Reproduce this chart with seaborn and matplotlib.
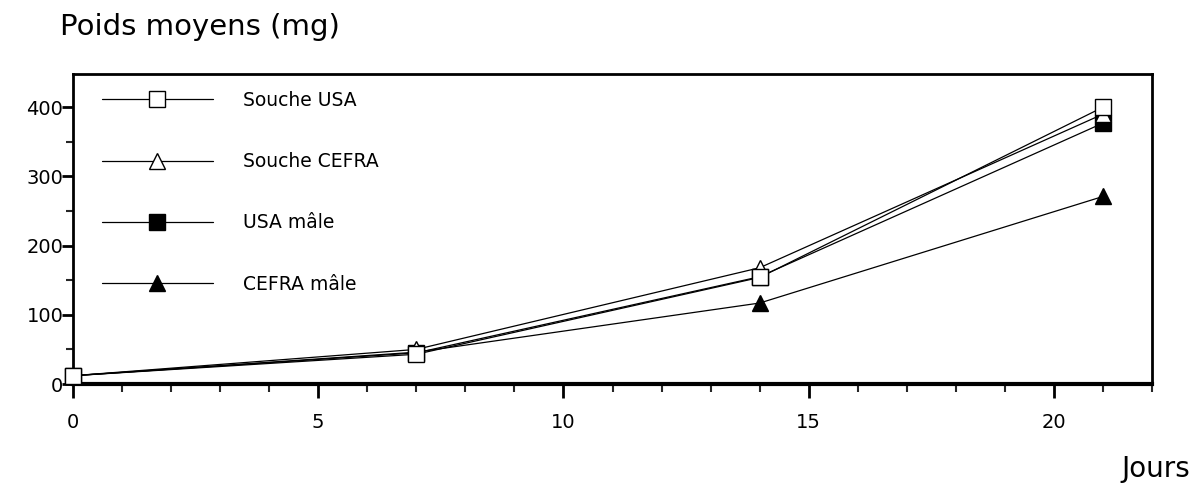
import matplotlib
matplotlib.use("Agg")
import matplotlib.pyplot as plt
from matplotlib.ticker import MultipleLocator
import seaborn as sns
import pandas as pd

sns.set_theme(style="white")
plt.rcParams["font.family"] = ["DejaVu Sans"]
plt.rcParams["text.color"] = "black"

jours = [0, 7, 14, 21]
souche_usa = [12, 43, 154, 400]
souche_cefra = [12, 50, 168, 390]
usa_male = [12, 45, 155, 377]
cefra_male = [12, 46, 117, 271]

series = [
    ("Souche USA", souche_usa, "s", "white", 5),
    ("Souche CEFRA", souche_cefra, "^", "white", 4),
    ("USA mâle", usa_male, "s", "black", 3),
    ("CEFRA mâle", cefra_male, "^", "black", 2),
]

fig = plt.figure(figsize=(11.96, 4.83), dpi=100)
ax = fig.add_axes([73 / 1196, 1 - 384 / 483, (1152 - 73) / 1196, (384 - 74) / 483])

for name, vals, mk, fc, z in series:
    df = pd.DataFrame({"Jours": jours, "Poids": vals})
    sns.lineplot(data=df, x="Jours", y="Poids", ax=ax, color="black", linewidth=0.9,
                 marker=mk, markersize=12, markerfacecolor=fc, markeredgecolor="black",
                 markeredgewidth=1.0, label=name, zorder=z, clip_on=False)

ax.set_xlim(0, 22)
ax.set_ylim(0, 448)
ax.xaxis.set_major_locator(MultipleLocator(5))
ax.xaxis.set_minor_locator(MultipleLocator(1))
ax.yaxis.set_major_locator(MultipleLocator(100))
ax.yaxis.set_minor_locator(MultipleLocator(50))
ax.tick_params(axis="x", which="major", direction="out", length=10, width=2,
               bottom=True, top=False, labelsize=14, pad=11, colors="black")
ax.tick_params(axis="x", which="minor", direction="out", length=6, width=1.5,
               bottom=True, top=False)
ax.tick_params(axis="y", which="major", direction="out", length=8, width=2,
               left=True, right=False, labelsize=14, pad=-1, colors="black")
ax.tick_params(axis="y", which="minor", direction="out", length=5, width=1.5,
               left=True, right=False)
for sp in ax.spines.values():
    sp.set_visible(True)
    sp.set_color("black")
    sp.set_linewidth(2)
ax.spines["bottom"].set_linewidth(3)
ax.set_xlabel("")
ax.set_ylabel("")
ax.grid(False)

leg = ax.legend(loc="upper left", bbox_to_anchor=(0.027, 0.945), frameon=False,
                handlelength=5.9, handletextpad=1.6, labelspacing=2.25,
                fontsize=13.5, borderpad=0, borderaxespad=0)
for t in leg.get_texts():
    t.set_color("black")

fig.text(60 / 1196, 1 - 35 / 483, "Poids moyens (mg)", fontsize=21, va="baseline", ha="left")
fig.text(1190 / 1196, 1 - 477 / 483, "Jours", fontsize=20, va="baseline", ha="right")

fig.savefig("out.png", dpi=100)
